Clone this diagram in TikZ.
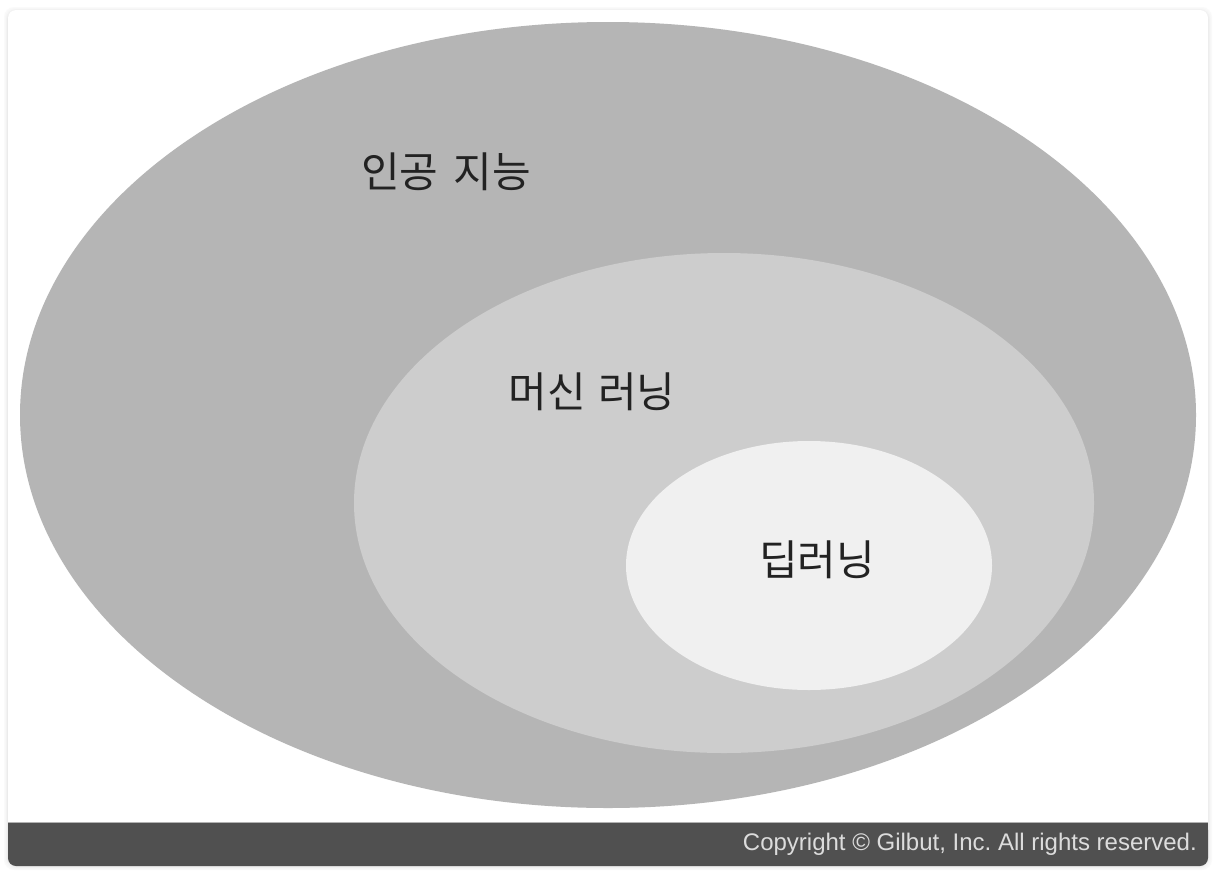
\documentclass[tikz,border=0pt]{standalone}
\usepackage{fontspec}
\setmainfont{Liberation Sans}
\newfontfamily\krfont{Noto Sans CJK KR}
\usetikzlibrary{shapes.geometric}
\frenchspacing
\definecolor{outerc}{HTML}{B5B5B5}
\definecolor{midc}{HTML}{CDCDCD}
\definecolor{innerc}{HTML}{F0F0F0}
\definecolor{barc}{HTML}{505050}
\definecolor{txtc}{HTML}{222222}
\definecolor{copyc}{HTML}{DCDCDC}
\begin{document}
\begin{tikzpicture}[x=1pt,y=-1pt,
  blob/.style={ellipse,inner sep=0pt,draw=none},
  label/.style={font=\krfont\fontsize{42}{42}\selectfont,text=txtc,inner sep=0pt}]
\useasboundingbox (0,0) rectangle (1214,870);
\fill[white] (0,0) rectangle (1214,870);
% card shadow
\foreach \o/\c in {4/2,3/3,2/5,1/8}{
  \fill[black!\c,rounded corners=10pt] (8-\o,10-\o+1) rectangle (1208+\o,866+\o);
}
\fill[white,rounded corners=8pt] (8,10) rectangle (1208,866);
% bottom bar
\fill[barc,rounded corners=8pt] (8,822) rectangle (1208,866);
\fill[barc] (8,822) rectangle (1208,840);
\draw[black!30,line width=1pt] (8,822.5) -- (1208,822.5);
% ellipses
\node[blob,fill=outerc,minimum width=1176pt,minimum height=786pt] (ai) at (608,415) {};
\node[blob,fill=midc,minimum width=740pt,minimum height=500pt] (ml) at (724,503) {};
\node[blob,fill=innerc,minimum width=366pt,minimum height=249pt] (dl) at (809,565.5) {};
% labels
\node[label] (tai) at (446,172) {인공\hspace{6pt} 지능};
\node[label] (tml) at (592,392) {머신\hspace{3pt} 러닝};
\node[label] (tdl) at (817,560) {딥러닝};
\node[font=\fontsize{24}{24}\selectfont,text=copyc,anchor=east,inner sep=0pt] (copy) at (1197,844) {Copyright © Gilbut, Inc. All rights reserved.};
\end{tikzpicture}
\end{document}
